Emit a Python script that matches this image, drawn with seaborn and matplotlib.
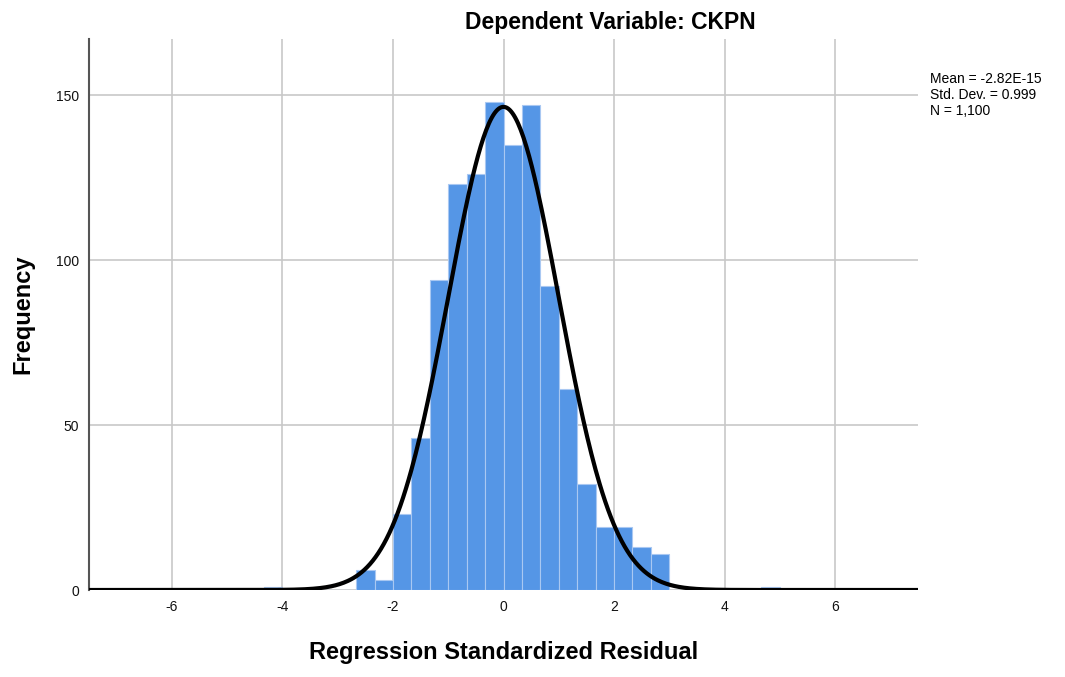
import numpy as np
import pandas as pd
import matplotlib
matplotlib.use("Agg")
import matplotlib.pyplot as plt
import seaborn as sns

# bin centres (width 1/3) and frequencies
bin_centers = [-25/6, -15/6, -13/6, -11/6, -9/6, -7/6, -5/6, -3/6, -1/6,
               1/6, 3/6, 5/6, 7/6, 9/6, 11/6, 13/6, 15/6, 17/6, 29/6]
freqs = [1, 6, 3, 23, 46, 94, 123, 126, 148,
         135, 147, 92, 61, 32, 19, 19, 13, 11, 1]
x_ticks = [-6, -4, -2, 0, 2, 4, 6]
y_ticks = [0, 50, 100, 150]

mean_val = -2.82e-15
sd_val = 0.999
n_val = 1100
bin_w = 1 / 3

df = pd.DataFrame({"resid": bin_centers, "count": freqs})

sns.set_style("white")
plt.rcParams["font.family"] = ["Liberation Sans", "DejaVu Sans"]
plt.rcParams["text.color"] = "black"
plt.rcParams["axes.labelcolor"] = "black"

fig = plt.figure(figsize=(10.65, 6.77), dpi=100)
ax = fig.add_axes([89/1065, 1 - 590/677, (918-89)/1065, (590-39)/677])

edges = [k / 3 for k in range(-13, 16)]
sns.histplot(data=df, x="resid", weights="count", bins=edges, ax=ax,
             color="#5596e6", alpha=1, edgecolor="#a9c8f2", linewidth=0.8,
             zorder=2)

# fitted normal curve scaled to counts
xs = np.linspace(-7.5, 7.5, 600)
ys = n_val * bin_w / (sd_val * np.sqrt(2 * np.pi)) * np.exp(-0.5 * ((xs - mean_val) / sd_val) ** 2)
ax.plot(xs, ys, color="black", lw=3, zorder=3, solid_capstyle="butt")

ax.set_xlim(-7.5, 7.5)
ax.set_ylim(0, 167)
ax.set_xticks(x_ticks)
ax.set_yticks(y_ticks)
ax.set_xticklabels([str(t) for t in x_ticks])
ax.grid(True, color="#c8c8c8", lw=1.2, zorder=0)
ax.set_axisbelow(True)
ax.tick_params(length=0, labelsize=10, colors="#111111", pad=7)
for s in ["top", "right", "bottom"]:
    ax.spines[s].set_visible(False)
ax.spines["left"].set_color("#555555")
ax.spines["left"].set_linewidth(1.5)

ax.set_xlabel("Regression Standardized Residual", fontsize=17, fontweight="bold", labelpad=20)
ax.set_ylabel("Frequency", fontsize=17, fontweight="bold", labelpad=16)

fig.text(610/1065, 1 - 23/677, "Dependent Variable: CKPN", ha="center", va="center",
         fontsize=16.5, fontweight="bold")
fig.text(930/1065, 1 - 72/677,
         "Mean = -2.82E-15\nStd. Dev. = 0.999\nN = 1,100",
         ha="left", va="top", fontsize=10, linespacing=1.2)

fig.savefig("out.png", dpi=100)
